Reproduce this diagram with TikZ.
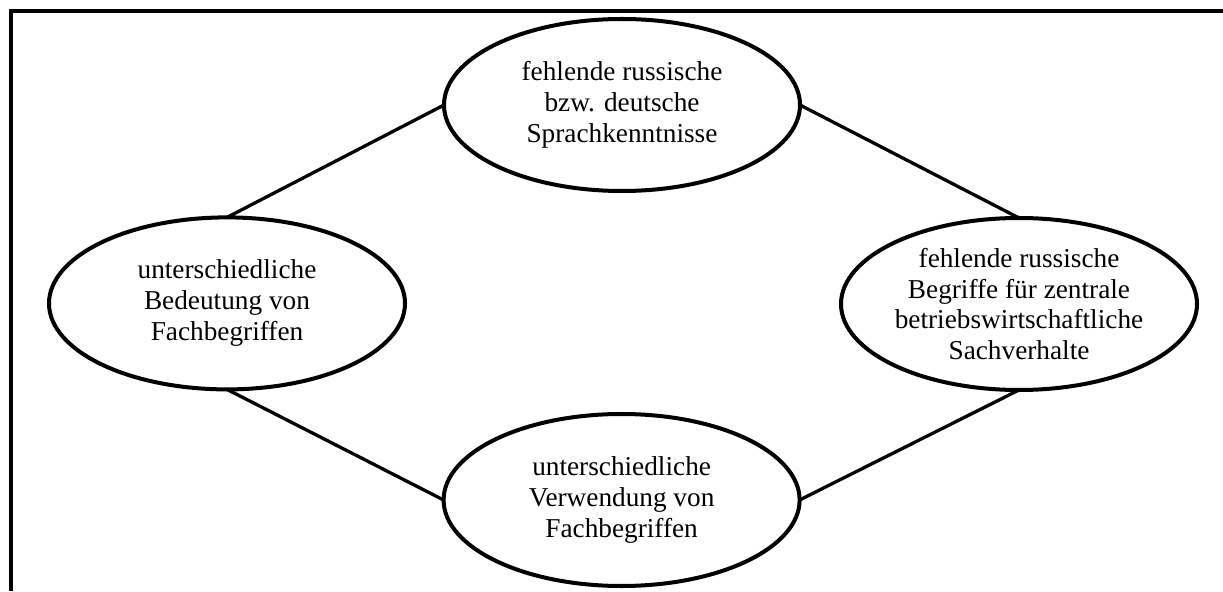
\documentclass[tikz,border=0pt]{standalone}
\usepackage{fontspec}
\setmainfont{Liberation Serif}
\usepackage{tikz}
\usetikzlibrary{shapes.geometric}

\begin{document}
\begin{tikzpicture}[
    bubble/.style={draw, ellipse, line width=2.85pt, inner sep=0pt, outer sep=0pt,
        minimum width=8.9cm, minimum height=4.3cm, align=center,
        font=\fontsize{19.4pt}{22pt}\selectfont},
    link/.style={line width=2.35pt}]
    \useasboundingbox (0,0) rectangle (30.575,14.775);

    % frame, only left and top edge visible
    \draw[line width=3.05pt] (0.275,0) -- (0.275,14.5) -- (30.575,14.5);

    \node[bubble] (sprache) at (15.55,12.15) {fehlende russische\\bzw. deutsche\\Sprachkenntnisse};
    \node[bubble] (bedeutung) at (5.675,7.19) {unterschiedliche\\Bedeutung von\\Fachbegriffen};
    \node[bubble] (begriffe) at (25.475,7.175) {fehlende russische\\Begriffe für zentrale\\betriebswirtschaftliche\\Sachverhalte};
    \node[bubble] (verwendung) at (15.54,2.275) {unterschiedliche\\Verwendung von\\Fachbegriffen};

    \draw[link] (bedeutung.north) -- (sprache.west);
    \draw[link] (sprache.east) -- (begriffe.north);
    \draw[link] (bedeutung.south) -- (verwendung.west);
    \draw[link] (verwendung.east) -- (begriffe.south);
\end{tikzpicture}
\end{document}
